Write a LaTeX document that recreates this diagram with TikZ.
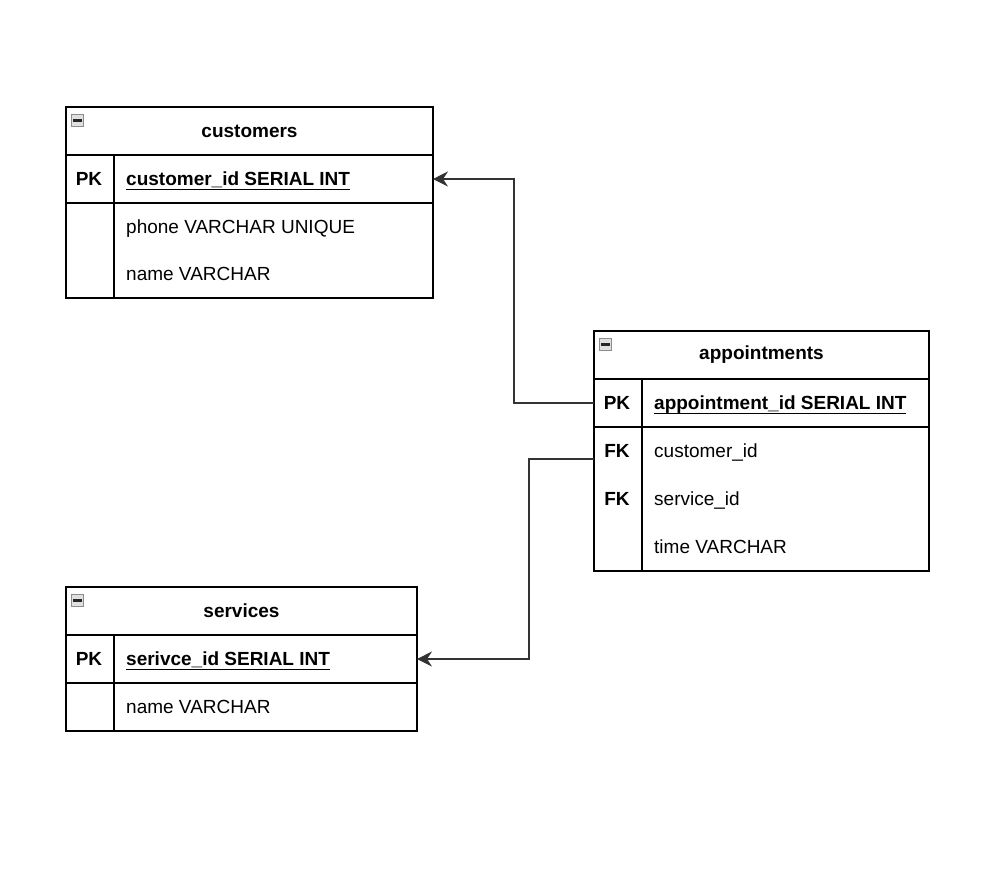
\documentclass[tikz,border=0pt]{standalone}
\usepackage{fontspec}
\setmainfont{Liberation Sans}
\usetikzlibrary{arrows.meta,calc}
\newcommand\keyul[1]{\setbox0\hbox{#1}\rlap{\rule[-4.5pt]{\wd0}{1.4pt}}\box0}
\begin{document}
\begin{tikzpicture}[x=1pt,y=-1pt,
  tablebox/.style={draw=black,line width=1.3pt,fill=white,anchor=north west,inner sep=0pt,outer sep=0pt},
  rowbox/.style={anchor=north west,inner sep=0pt,outer sep=0pt,minimum height=48pt},
  thinsep/.style={draw=black,line width=1.3pt},
  thicksep/.style={draw=black,line width=2.2pt},
  icon/.style={draw=black!45,fill=black!12,line width=1.3pt,minimum size=12.5pt,inner sep=0pt,
    path picture={\fill[black!85] ($(path picture bounding box.center)+(-4.5,-1.3)$) rectangle ($(path picture bounding box.center)+(4.5,1.3)$);}},
  title/.style={font=\fontsize{19}{23}\selectfont\bfseries,inner sep=0pt},
  keytxt/.style={font=\fontsize{19}{23}\selectfont\bfseries,inner sep=0pt},
  field/.style={font=\fontsize{19}{23}\selectfont,anchor=base west,inner sep=0pt},
  pkfield/.style={font=\fontsize{19}{23}\selectfont\bfseries,anchor=base west,inner sep=0pt},
  conn/.style={draw=black!80,line width=1.3pt,-{Stealth[length=15pt,width=15pt,inset=5pt]}}
]
\useasboundingbox (0,0) rectangle (987,881);

% ---------------- customers ----------------
\node[tablebox,minimum width=367pt,minimum height=191pt] (cust) at (66,107) {};
\node[rowbox,minimum width=367pt] (custpk) at (66,155) {};
\node[rowbox,minimum width=367pt] (custr1) at (66,203) {};
\node[rowbox,minimum width=367pt] (custr2) at (66,250) {};
\draw[thinsep] (custpk.north west) -- (custpk.north east);
\draw[thicksep] (custpk.south west) -- (custpk.south east);
\draw[thinsep] (114,155) -- (114,298);
\node[icon] (custicon) at (77.5,120.5) {};
\node[title] (custtitle) at (249.5,131) {customers};
\node[keytxt] (custpkkey) at (89,179) {PK};
\node[pkfield] (custpktxt) at (126,185.5) {\keyul{customer\_id SERIAL INT}};
\node[field] (custr1txt) at (126,233.5) {phone VARCHAR UNIQUE};
\node[field] (custr2txt) at (126,280.5) {name VARCHAR};

% ---------------- appointments ----------------
\node[tablebox,minimum width=335pt,minimum height=240pt] (appt) at (594,331) {};
\node[rowbox,minimum width=335pt] (apptpk) at (594,379) {};
\node[rowbox,minimum width=335pt] (apptfk1) at (594,427) {};
\node[rowbox,minimum width=335pt] (apptfk2) at (594,475) {};
\node[rowbox,minimum width=335pt] (apptr3) at (594,523) {};
\draw[thinsep] (apptpk.north west) -- (apptpk.north east);
\draw[thicksep] (apptpk.south west) -- (apptpk.south east);
\draw[thinsep] (642,379) -- (642,571);
\node[icon] (appticon) at (605.5,344.5) {};
\node[title] (appttitle) at (761.5,355) {appointments};
\node[keytxt] (apptpkkey) at (617,403) {PK};
\node[pkfield] (apptpktxt) at (654,409.5) {\keyul{appointment\_id SERIAL INT}};
\node[keytxt] (apptfk1key) at (617,451) {FK};
\node[field] (apptfk1txt) at (654,457.5) {customer\_id};
\node[keytxt] (apptfk2key) at (617,499) {FK};
\node[field] (apptfk2txt) at (654,505.5) {service\_id};
\node[field] (apptr3txt) at (654,553.5) {time VARCHAR};

% ---------------- services ----------------
\node[tablebox,minimum width=351pt,minimum height=144pt] (serv) at (66,587) {};
\node[rowbox,minimum width=351pt] (servpk) at (66,635) {};
\node[rowbox,minimum width=351pt] (servr1) at (66,683) {};
\draw[thinsep] (servpk.north west) -- (servpk.north east);
\draw[thicksep] (servpk.south west) -- (servpk.south east);
\draw[thinsep] (114,635) -- (114,731);
\node[icon] (servicon) at (77.5,600.5) {};
\node[title] (servtitle) at (241.5,611) {services};
\node[keytxt] (servpkkey) at (89,659) {PK};
\node[pkfield] (servpktxt) at (126,665.5) {\keyul{serivce\_id SERIAL INT}};
\node[field] (servr1txt) at (126,713.5) {name VARCHAR};

% ---------------- connectors ----------------
\draw[conn] (apptpk.west) -- ++(-80,0) |- (custpk.east);
\coordinate (fkout) at ($(apptfk1.west)+(0,8)$);
\draw[conn] (fkout) -- ++(-65,0) |- (servpk.east);
\end{tikzpicture}
\end{document}
